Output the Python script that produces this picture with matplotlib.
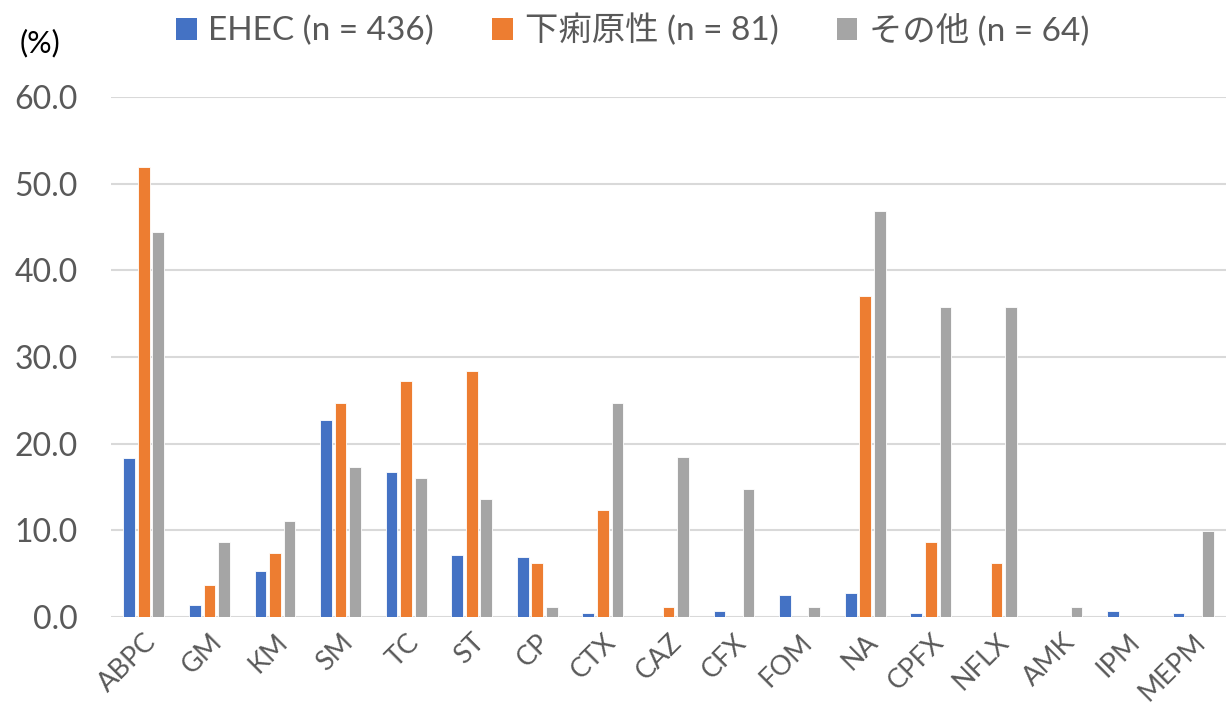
import numpy as np
import matplotlib
matplotlib.use("Agg")
import matplotlib.pyplot as plt
from matplotlib.patches import Patch

plt.rcParams['font.family'] = ['Lato', 'Noto Sans CJK JP', 'DejaVu Sans']

# drugs tested
drugs = ["ABPC", "GM", "KM", "SM", "TC", "ST", "CP", "CTX", "CAZ", "CFX",
         "FOM", "NA", "CPFX", "NFLX", "AMK", "IPM", "MEPM"]

# resistance rate (%) for each group
ehec = [18.3, 1.4, 5.3, 22.7, 16.7, 7.1, 6.9, 0.5, 0.0, 0.7,
        2.5, 2.8, 0.5, 0.0, 0.0, 0.7, 0.5]
diarrheagenic = [51.9, 3.7, 7.4, 24.7, 27.2, 28.4, 6.2, 12.3, 1.2, 0.0,
                 0.0, 37.0, 8.6, 6.2, 0.0, 0.0, 0.0]
other = [44.4, 8.6, 11.1, 17.3, 16.0, 13.6, 1.2, 24.7, 18.5, 14.8,
         1.2, 46.9, 35.8, 35.8, 1.2, 0.0, 9.9]

series_labels = ["EHEC (n = 436)", "下痢原性 (n = 81)", "その他 (n = 64)"]
colors = ["#4472C4", "#ED7D31", "#A5A5A5"]
yticks = [0, 10, 20, 30, 40, 50, 60]

text_color = "#595959"
grid_color = "#D9D9D9"

fig = plt.figure(figsize=(12.26, 7.17), dpi=100)
ax = fig.add_axes([0.0905, 0.1395, 0.9095, 0.7252])

x = np.arange(len(drugs))
w = 0.178
step = 0.222
for i, (vals, c) in enumerate(zip([ehec, diarrheagenic, other], colors)):
    ax.bar(x + (i - 1) * step, vals, width=w, color=c, edgecolor="white",
           linewidth=0.6, zorder=3)

ax.set_xlim(-0.5, len(drugs) - 0.5)
ax.set_ylim(0, 60)
ax.set_yticks(yticks)
ax.set_yticklabels([f"{v:.1f}" for v in yticks], fontsize=23, color=text_color)
ax.set_xticks(x)
ax.set_xticklabels(drugs, rotation=45, ha="right", rotation_mode="anchor",
                   fontsize=19.5, color=text_color)
ax.tick_params(axis="both", length=0)
ax.tick_params(axis="y", pad=24)
ax.tick_params(axis="x", pad=9)

ax.grid(axis="y", color=grid_color, linewidth=1.5, zorder=0)
for s in ax.spines.values():
    s.set_visible(False)

fig.text(0.016, 0.94, "(%)", fontsize=22, color="black", va="center")

handles = [Patch(facecolor=c, edgecolor="none") for c in colors]
fig.legend(handles, series_labels, loc="center", bbox_to_anchor=(0.516, 0.958),
           ncol=3, frameon=False, fontsize=24, labelcolor=text_color,
           handlelength=0.62, handleheight=0.62, handletextpad=0.35,
           columnspacing=1.75)

fig.savefig("out.png", dpi=100)
